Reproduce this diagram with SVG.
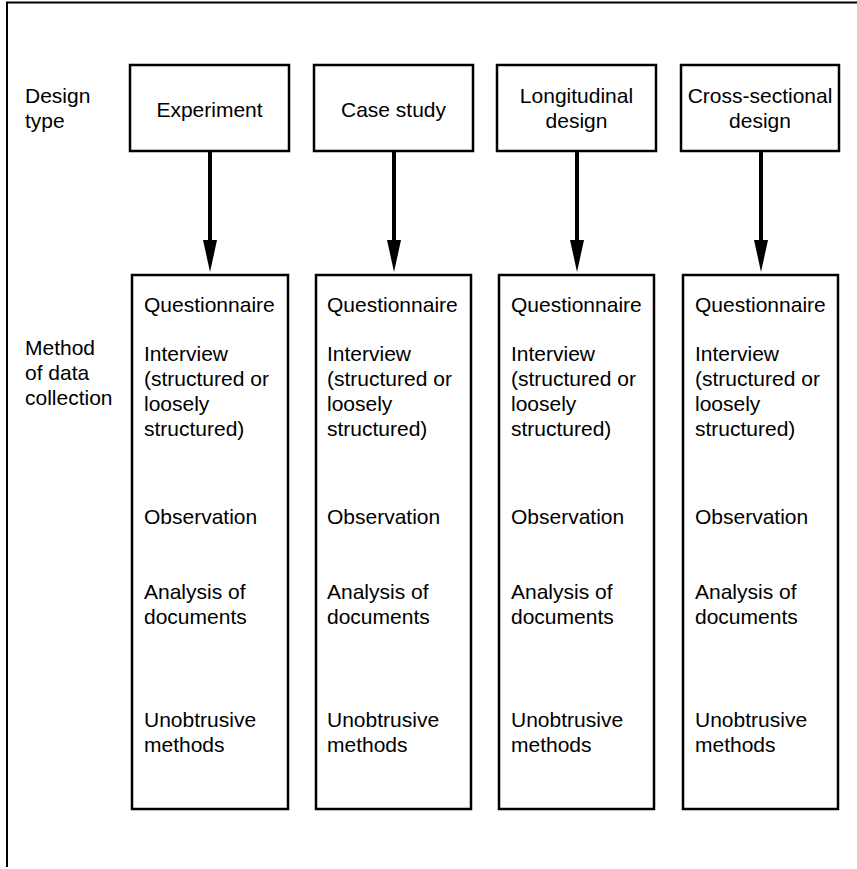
<svg xmlns="http://www.w3.org/2000/svg" width="857" height="869" viewBox="0 0 857 869">
<defs>
<style>
text{font-family:"Liberation Sans",Arial,sans-serif;font-size:21px;fill:#000}
.c{text-anchor:middle}
.box{fill:#fff;stroke:#000;stroke-width:2.5}
.conn{stroke:#000;stroke-width:4;fill:none}
.frame{stroke:#000;stroke-width:2;fill:none}
</style>
<marker id="ah" markerWidth="14" markerHeight="32" refX="7" refY="32" orient="auto-start-reverse" markerUnits="userSpaceOnUse" viewBox="0 0 14 32">
<path d="M0,0 L14,0 L7,32 Z" fill="#000"/>
</marker>
</defs>
<rect width="857" height="869" fill="#fff"/>
<path class="frame" d="M7,867 L7,2.5 L857,2.5"/>
<g id="labels">
<text x="25" y="103">Design</text>
<text x="25" y="128">type</text>
<text x="25" y="355">Method</text>
<text x="25" y="380">of data</text>
<text x="25" y="405">collection</text>
</g>
<g id="connectors">
<path class="conn" d="M210,151 L210,245"/><path d="M203,240 L217,240 L210,272 Z"/>
<path class="conn" d="M394,151 L394,245"/><path d="M387,240 L401,240 L394,272 Z"/>
<path class="conn" d="M577,151 L577,245"/><path d="M570,240 L584,240 L577,272 Z"/>
<path class="conn" d="M761,151 L761,245"/><path d="M754,240 L768,240 L761,272 Z"/>
</g>
<g id="experiment"><rect class="box" x="130" y="65" width="159" height="86"/><text class="c" x="209.5" y="117">Experiment</text></g>
<g id="case-study"><rect class="box" x="314" y="65" width="159" height="86"/><text class="c" x="393.5" y="117">Case study</text></g>
<g id="longitudinal"><rect class="box" x="497" y="65" width="159" height="86"/><text class="c" x="576.5" y="103">Longitudinal</text><text class="c" x="576.5" y="128">design</text></g>
<g id="cross-sectional"><rect class="box" x="681" y="65" width="158" height="86"/><text class="c" x="760" y="103">Cross-sectional</text><text class="c" x="760" y="128">design</text></g>
<g id="methods-1"><rect class="box" x="132" y="275" width="156" height="534"/>
<text x="144" y="312">Questionnaire</text><text x="144" y="361">Interview</text><text x="144" y="386">(structured or</text><text x="144" y="411">loosely</text><text x="144" y="436">structured)</text><text x="144" y="524">Observation</text><text x="144" y="599">Analysis of</text><text x="144" y="624">documents</text><text x="144" y="727">Unobtrusive</text><text x="144" y="752">methods</text></g>
<g id="methods-2"><rect class="box" x="316" y="275" width="155" height="534"/>
<text x="327" y="312">Questionnaire</text><text x="327" y="361">Interview</text><text x="327" y="386">(structured or</text><text x="327" y="411">loosely</text><text x="327" y="436">structured)</text><text x="327" y="524">Observation</text><text x="327" y="599">Analysis of</text><text x="327" y="624">documents</text><text x="327" y="727">Unobtrusive</text><text x="327" y="752">methods</text></g>
<g id="methods-3"><rect class="box" x="499" y="275" width="155" height="534"/>
<text x="511" y="312">Questionnaire</text><text x="511" y="361">Interview</text><text x="511" y="386">(structured or</text><text x="511" y="411">loosely</text><text x="511" y="436">structured)</text><text x="511" y="524">Observation</text><text x="511" y="599">Analysis of</text><text x="511" y="624">documents</text><text x="511" y="727">Unobtrusive</text><text x="511" y="752">methods</text></g>
<g id="methods-4"><rect class="box" x="683" y="275" width="155" height="534"/>
<text x="695" y="312">Questionnaire</text><text x="695" y="361">Interview</text><text x="695" y="386">(structured or</text><text x="695" y="411">loosely</text><text x="695" y="436">structured)</text><text x="695" y="524">Observation</text><text x="695" y="599">Analysis of</text><text x="695" y="624">documents</text><text x="695" y="727">Unobtrusive</text><text x="695" y="752">methods</text></g>
</svg>
